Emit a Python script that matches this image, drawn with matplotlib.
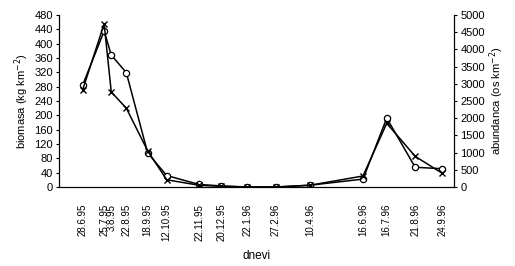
import pandas as pd
import matplotlib
matplotlib.use("Agg")
import matplotlib.pyplot as plt

plt.rcParams['font.family'] = ['Liberation Sans', 'DejaVu Sans']

dates = ["28.6.95", "25.7.95", "3.8.95", "22.8.95", "18.9.95", "12.10.95",
         "22.11.95", "20.12.95", "22.1.96", "27.2.96", "10.4.96",
         "16.6.96", "16.7.96", "21.8.96", "24.9.96"]

# biomasa (kg km-2), open circles
biomasa = [285, 435, 368, 319, 95, 32, 7, 3, 0, 0, 5, 22, 192, 55, 51]
# abundanca (os km-2), crosses
abundanca = [2830, 4740, 2760, 2290, 1050, 210, 50, 20, 0, 0, 50, 320, 1850, 890, 400]

x = pd.to_datetime(dates, format="%d.%m.%y")

fig = plt.figure(figsize=(5.15, 2.66), dpi=100)
ax = fig.add_axes([0.1146, 0.297, 0.767, 0.647])
ax2 = ax.twinx()

ax.plot(x, biomasa, color="black", lw=1.1, marker="o", ms=4.5,
        mfc="white", mec="black", mew=0.9, zorder=3)
ax2.plot(x, abundanca, color="black", lw=1.1, marker="x", ms=5,
         mec="black", mew=1.0, zorder=3)

ax.set_xlim(pd.Timestamp("1995-05-29"), pd.Timestamp("1996-10-09"))
ax.set_ylim(0, 480)
ax2.set_ylim(0, 5000)
ax.set_yticks(range(0, 481, 40))
ax2.set_yticks(range(0, 5001, 500))

ax.set_xticks(x)
ax.set_xticklabels(dates, rotation=90, va="top", ha="center")
ax.tick_params(axis="x", length=0, pad=12, labelsize=7)
ax.tick_params(axis="y", length=2.5, width=0.8, pad=2, labelsize=8)
ax2.tick_params(axis="y", length=2.5, width=0.8, pad=2, labelsize=8)

for a in (ax, ax2):
    a.spines["top"].set_visible(False)
    for s in a.spines.values():
        s.set_linewidth(0.8)

ax.set_ylabel("biomasa (kg km$^{-2}$)", fontsize=8, labelpad=2)
ax2.set_ylabel("abundanca (os km$^{-2}$)", fontsize=8, labelpad=2)
ax.set_xlabel("dnevi", fontsize=8.5, labelpad=6)

fig.savefig("out.png", dpi=100)
